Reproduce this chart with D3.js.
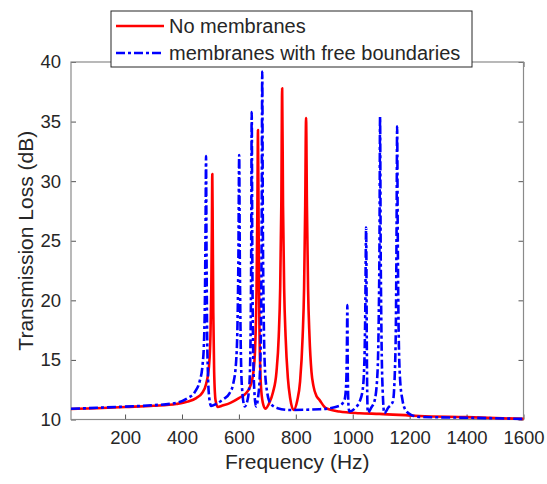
<!doctype html>
<html lang="en">
<head>
<meta charset="utf-8">
<title>Transmission Loss</title>
<script src="https://cdn.jsdelivr.net/npm/d3@7"></script>
<style>
  body { margin: 0; background: #fff; }
  svg text { font-family: Arial, "Liberation Sans", sans-serif; fill: #262626; }
</style>
</head>
<body>
<svg id="chart" width="547" height="484"></svg>
<script>
// values
var xTicks = [200, 400, 600, 800, 1000, 1200, 1400, 1600];
var yTicks = [10, 15, 20, 25, 30, 35, 40];
var seriesNames = ["No membranes", "membranes with free boundaries"];

// No membranes
var freqRed = [10, 100, 200, 300, 380, 420, 450, 470, 485, 495, 500, 503, 505, 506.5, 508, 510, 513, 518, 526,
  540, 570, 600, 625, 640, 650, 657, 662, 665, 667, 669, 672, 677, 684, 693,
  705, 720, 732, 740, 745, 749, 752, 755, 759, 764, 772, 780, 792,
  805, 815, 824, 829, 833, 836, 839, 843, 848, 855, 862, 872, 883, 906, 953, 1024, 1094, 1234, 1400, 1600];
var tlRed = [10.88, 10.95, 11.05, 11.15, 11.3, 11.5, 11.8, 12.2, 13.0, 14.5, 17, 21, 26, 30.6, 26, 19, 14, 11.6, 11.05,
  11.15, 11.4, 11.8, 12.2, 12.8, 13.8, 16, 21, 28, 34.3, 27, 18, 13, 11.4, 10.9,
  11.3, 12.3, 14, 17, 21, 28, 37.8, 28, 21, 17, 13.5, 11.8, 10.8,
  11.6, 13.2, 17, 21, 28, 35.3, 28, 21, 17, 14, 12.8, 12.0, 11.65, 10.95, 10.67, 10.53, 10.47, 10.3, 10.2, 10.05];

// membranes with free boundaries
var freqBlue = [10, 100, 200, 300, 380, 420, 445, 462, 472, 478, 481, 483, 484.5, 486, 488, 491, 495, 502,
  520, 545, 567, 580, 590, 595, 598, 601, 603, 606, 610, 620,
  630, 637, 641, 643, 645, 647, 650, 654, 660,
  667, 674, 678, 680, 682, 684, 687, 692, 700, 710, 736, 777, 883,
  953, 971, 977, 979.5, 981, 982.5, 985, 988,
  1010, 1024, 1035, 1041, 1044, 1047, 1049.5, 1051, 1053,
  1065, 1076, 1086, 1091, 1094, 1096, 1098, 1101, 1105, 1111,
  1125, 1141, 1148, 1152, 1154, 1156, 1158, 1161, 1166, 1175, 1182, 1205, 1234, 1400, 1600];
var tlBlue = [10.9, 10.98, 11.08, 11.2, 11.4, 11.8, 12.3, 13.2, 14.5, 17, 21, 27, 32.1, 25, 18, 14, 12, 11.14,
  11.3, 11.7, 12.2, 13, 14.8, 18, 23, 32.2, 24, 17, 13, 11.1,
  11.6, 13, 17, 23, 35.8, 24, 16, 12.5, 11.1,
  11.8, 14, 19, 26, 39.2, 27, 19, 14, 12.2, 11.4, 10.95, 10.8, 10.86,
  11.14, 11.65, 13, 16, 19.6, 14, 11.2, 10.67,
  11, 11.5, 12.5, 15, 19, 26.1, 16, 12, 10.58,
  11, 11.5, 13.5, 18, 25, 35.4, 25, 17, 12.5, 10.53,
  11, 11.5, 14, 19, 26, 34.6, 26, 18, 13.5, 11.6, 10.95, 10.39, 10.22, 10.15, 10.05];

var svg = d3.select("#chart");
var plotL = 71, plotR = 523.5, plotT = 62, plotB = 419.5;

var x = d3.scaleLinear().domain([10, 1600]).range([plotL, plotR]);
var y = d3.scaleLinear().domain([10, 40]).range([plotB, plotT]);

var axisColor = "#8a8a8a";

// inward ticks on all four sides
function styleAxis(g) {
  g.select(".domain").remove();
  g.selectAll(".tick line").attr("stroke", "#555");
  g.selectAll(".tick text").style("font-size", "18.5px").attr("fill", "#262626");
}

svg.append("g")
  .attr("transform", "translate(0," + plotB + ")")
  .call(d3.axisBottom(x).tickValues(xTicks).tickFormat(d3.format("d"))
    .tickSizeInner(-5).tickSizeOuter(0).tickPadding(11))
  .call(styleAxis);
svg.append("g")
  .attr("transform", "translate(0," + plotT + ")")
  .call(d3.axisTop(x).tickValues(xTicks).tickSizeInner(-5).tickSizeOuter(0).tickFormat(""))
  .call(styleAxis);
svg.append("g")
  .attr("transform", "translate(" + plotL + ",0)")
  .call(d3.axisLeft(y).tickValues(yTicks).tickFormat(d3.format("d"))
    .tickSizeInner(-5).tickSizeOuter(0).tickPadding(10))
  .call(styleAxis);
svg.append("g")
  .attr("transform", "translate(" + plotR + ",0)")
  .call(d3.axisRight(y).tickValues(yTicks).tickSizeInner(-5).tickSizeOuter(0).tickFormat(""))
  .call(styleAxis);

svg.append("rect")
  .attr("x", plotL).attr("y", plotT)
  .attr("width", plotR - plotL).attr("height", plotB - plotT)
  .attr("fill", "none").attr("stroke", axisColor).attr("stroke-width", 1.2);

var line = d3.line()
  .x(function(d) { return x(d[0]); })
  .y(function(d) { return y(d[1]); })
  .curve(d3.curveMonotoneX);

var redData = d3.zip(freqRed, tlRed);
var blueData = d3.zip(freqBlue, tlBlue);

svg.append("path").datum(redData)
  .attr("d", line)
  .attr("fill", "none").attr("stroke", "#ff0000").attr("stroke-width", 2.6)
  .attr("stroke-linejoin", "round");

svg.append("path").datum(blueData)
  .attr("d", line)
  .attr("fill", "none").attr("stroke", "#0000ff").attr("stroke-width", 2.6)
  .attr("stroke-dasharray", "9,3,3,3");

// axis labels
svg.append("text")
  .attr("x", (plotL + plotR) / 2).attr("y", 469)
  .attr("text-anchor", "middle").style("font-size", "21px")
  .text("Frequency (Hz)");

svg.append("text")
  .attr("transform", "translate(33," + ((plotT + plotB) / 2) + ") rotate(-90)")
  .attr("text-anchor", "middle").style("font-size", "21px")
  .text("Transmission Loss (dB)");

// legend
var lg = svg.append("g");
lg.append("rect")
  .attr("x", 111).attr("y", 11).attr("width", 361).attr("height", 56)
  .attr("fill", "#fff").attr("stroke", "#262626").attr("stroke-width", 1);

var legendColors = ["#ff0000", "#0000ff"];
var legendDash = [null, "9,3,3,3"];
seriesNames.forEach(function(name, i) {
  var ly = 26 + i * 27;
  lg.append("line")
    .attr("x1", 116).attr("x2", 164).attr("y1", ly).attr("y2", ly)
    .attr("stroke", legendColors[i]).attr("stroke-width", 2.6)
    .attr("stroke-dasharray", legendDash[i]);
  lg.append("text")
    .attr("x", 169).attr("y", ly).attr("dy", "0.35em")
    .style("font-size", "20px")
    .text(name);
});
</script>
</body>
</html>
